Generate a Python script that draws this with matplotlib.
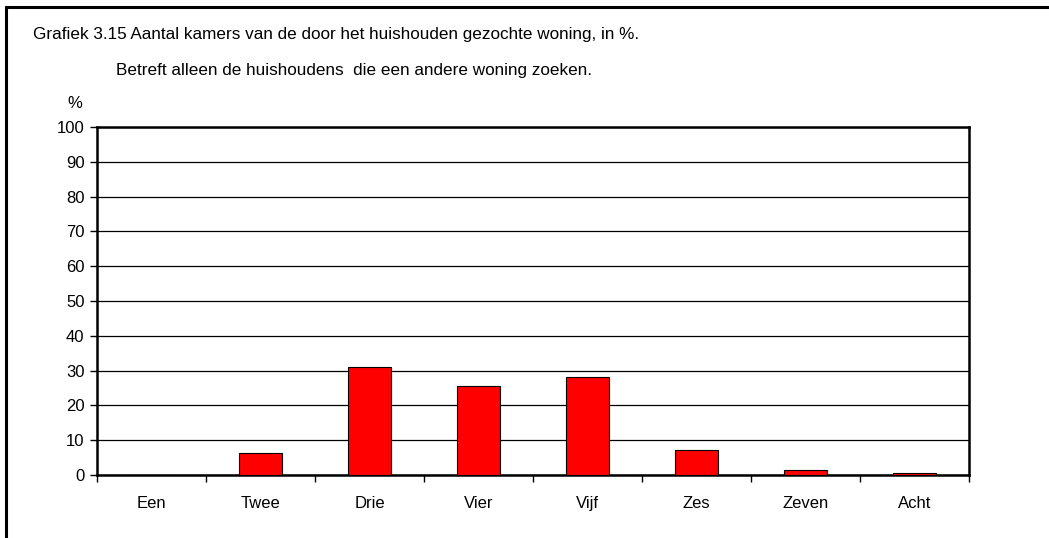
import numpy as np
import matplotlib.pyplot as plt
from matplotlib.patches import Rectangle

plt.rcParams['font.family'] = ['Liberation Sans', 'DejaVu Sans']

categories = ['Een', 'Twee', 'Drie', 'Vier', 'Vijf', 'Zes', 'Zeven', 'Acht']
values = [0.0, 6.3, 31.1, 25.5, 28.1, 7.2, 1.3, 0.7]
yticks = list(range(0, 101, 10))

fig = plt.figure(figsize=(10.49, 5.38), dpi=100)
W, H = 1049, 538

# outer frame of the chart object
fig.patches.append(Rectangle((6 / W, -0.05), 1.1, 1 - 7 / H + 0.05, transform=fig.transFigure,
                             fill=False, edgecolor='black', linewidth=2.2))

ax = fig.add_axes([97 / W, 1 - 475 / H, 872 / W, 348 / H])
x = np.arange(len(categories))
ax.bar(x, values, width=0.4, color='#ff0000', edgecolor='black', linewidth=0.8, zorder=3)

ax.set_xlim(-0.5, len(categories) - 0.5)
ax.set_ylim(0, 100)
ax.set_yticks(yticks)
ax.set_yticklabels([str(t) for t in yticks], fontsize=12)
ax.set_xticks(x)
ax.set_xticklabels(categories, fontsize=12)
ax.tick_params(axis='x', length=0, pad=15)
ax.set_xticks(np.arange(-0.5, len(categories)), minor=True)
ax.tick_params(axis='x', which='minor', length=5, width=1, direction='out')
ax.tick_params(axis='y', length=5, width=1, direction='out', pad=4)
ax.yaxis.grid(True, color='black', linewidth=0.9, zorder=0)
for s in ax.spines.values():
    s.set_linewidth(1.8)
    s.set_color('black')

fig.text(33 / W, 1 - 35 / H, 'Grafiek 3.15 Aantal kamers van de door het huishouden gezochte woning, in %.',
         fontsize=12.3, va='center', ha='left')
fig.text(116 / W, 1 - 70 / H, 'Betreft alleen de huishoudens  die een andere woning zoeken.',
         fontsize=12.3, va='center', ha='left')
fig.text(75 / W, 1 - 103 / H, '%', fontsize=12, va='center', ha='center')

fig.savefig('out.png', dpi=100)
